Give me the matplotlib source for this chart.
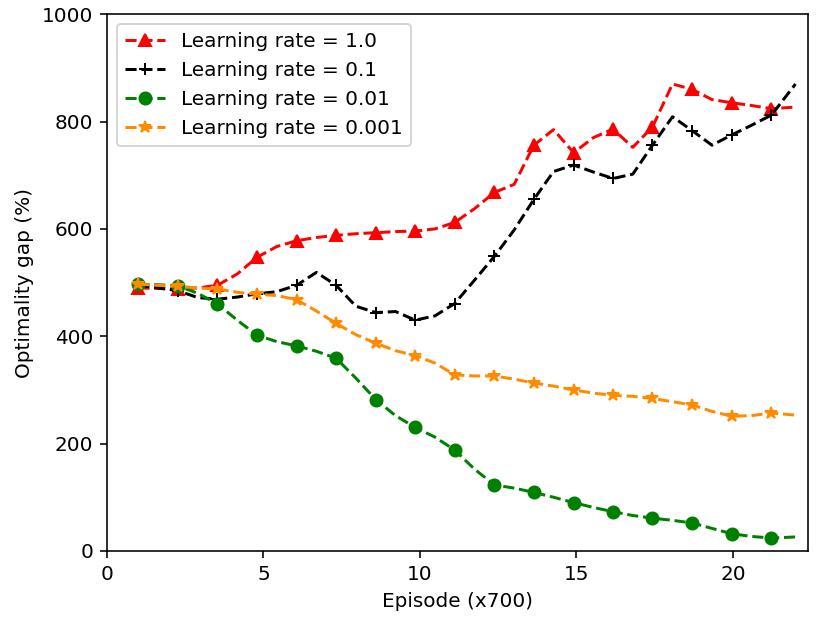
import matplotlib
matplotlib.use("Agg")
import matplotlib.pyplot as plt

# episode positions (x700) along the smoothed curves
EPISODE = [1.00, 1.63, 2.26, 2.90, 3.53, 4.16, 4.79, 5.42, 6.06, 6.69,
           7.32, 7.95, 8.59, 9.22, 9.85, 10.48, 11.11, 11.75, 12.38, 13.01,
           13.64, 14.27, 14.91, 15.54, 16.17, 16.80, 17.43, 18.07, 18.70, 19.33,
           19.96, 20.59, 21.23, 22.00]

GAP_LR_1 = [490, 489, 488, 490, 495, 516, 547, 567, 578, 584,
            588, 591, 593, 595, 596, 600, 612, 638, 668, 683,
            756, 785, 742, 770, 786, 752, 790, 870, 860, 841,
            835, 830, 824, 827]
GAP_LR_01 = [495, 490, 485, 472, 469, 473, 479, 483, 495, 519,
             495, 456, 444, 446, 430, 438, 461, 505, 549, 598,
             655, 707, 719, 706, 694, 702, 756, 809, 783, 756,
             775, 793, 812, 870]
GAP_LR_001 = [497, 496, 494, 480, 460, 430, 402, 390, 382, 372,
              359, 322, 282, 252, 230, 212, 188, 152, 123, 117,
              109, 100, 90, 81, 73, 66, 61, 57, 52, 42,
              32, 27, 24, 26]
GAP_LR_0001 = [497, 495, 493, 490, 488, 482, 478, 476, 468, 447,
               424, 403, 387, 373, 364, 350, 328, 326, 326, 320,
               313, 307, 300, 294, 290, 288, 284, 278, 272, 260,
               251, 252, 257, 253]

SERIES = [
    ("Learning rate = 1.0", GAP_LR_1, "red", "^"),
    ("Learning rate = 0.1", GAP_LR_01, "black", "+"),
    ("Learning rate = 0.01", GAP_LR_001, "green", "o"),
    ("Learning rate = 0.001", GAP_LR_0001, "darkorange", "*"),
]


def main():
    dpi = 144
    fig, ax = plt.subplots(figsize=(817 / dpi, 619 / dpi), dpi=dpi)
    fig.subplots_adjust(left=0.131, right=0.989, top=0.977, bottom=0.110)

    marks = slice(0, len(EPISODE) - 1, 2)
    for label, vals, color, marker in SERIES:
        ax.plot(EPISODE, vals, linestyle="--", color=color, marker=marker,
                markevery=marks, label=label)

    ax.set_xlim(0, 22.4)
    ax.set_ylim(0, 1000)
    ax.set_xticks([0, 5, 10, 15, 20])
    ax.set_yticks([0, 200, 400, 600, 800, 1000])
    ax.set_xlabel("Episode (x700)")
    ax.set_ylabel("Optimality gap (%)")
    ax.legend(loc="upper left")

    fig.savefig("out.png", dpi=dpi)
    plt.close(fig)


if __name__ == "__main__":
    main()
